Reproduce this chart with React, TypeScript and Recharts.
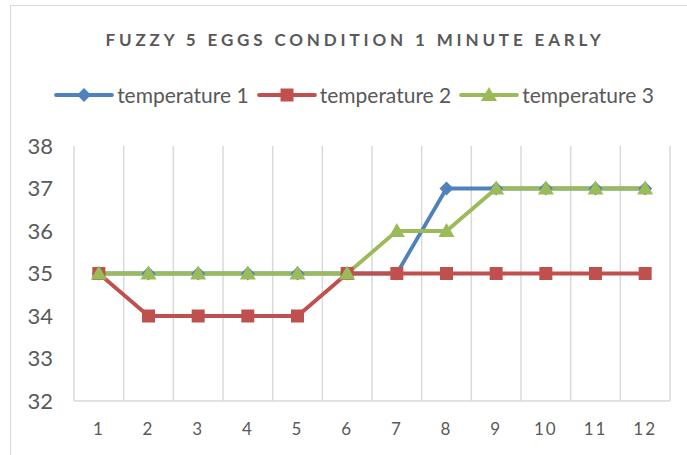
import React from "react";
import { LineChart, Line, XAxis, YAxis, CartesianGrid } from "recharts";

const categories = ["1", "2", "3", "4", "5", "6", "7", "8", "9", "10", "11", "12"];
const temperature1 = [35, 35, 35, 35, 35, 35, 35, 37, 37, 37, 37, 37];
const temperature2 = [35, 34, 34, 34, 34, 35, 35, 35, 35, 35, 35, 35];
const temperature3 = [35, 35, 35, 35, 35, 35, 36, 36, 37, 37, 37, 37];
const yTicks = [32, 33, 34, 35, 36, 37, 38];

const BLUE = "#4F81BD";
const RED = "#C0504D";
const GREEN = "#9BBB59";
const TEXT = "#595959";
const GRID = "#d9d9d9";
const FONT = "Lato, 'Open Sans', sans-serif";

const data = categories.map((c, i) => ({
  cat: c,
  t1: temperature1[i],
  t2: temperature2[i],
  t3: temperature3[i],
}));

type Shape = "diamond" | "square" | "triangle";

function markerPath(shape: Shape, cx: number, cy: number): string {
  if (shape === "diamond") {
    const r = 7;
    return `M${cx},${cy - r}L${cx + r},${cy}L${cx},${cy + r}L${cx - r},${cy}Z`;
  }
  if (shape === "square") {
    const h = 6.5;
    return `M${cx - h},${cy - h}h${2 * h}v${2 * h}h${-2 * h}Z`;
  }
  return `M${cx},${cy - 8}L${cx + 8},${cy + 6}L${cx - 8},${cy + 6}Z`;
}

const makeDot = (shape: Shape, color: string) => (props: any) => {
  const { cx, cy, index } = props;
  if (cx == null || cy == null) return <g key={index} />;
  return <path key={index} d={markerPath(shape, cx, cy)} fill={color} />;
};

const legendItems: { name: string; color: string; shape: Shape }[] = [
  { name: "temperature 1", color: BLUE, shape: "diamond" },
  { name: "temperature 2", color: RED, shape: "square" },
  { name: "temperature 3", color: GREEN, shape: "triangle" },
];

// 12 categories, points sit in the middle of each band
const PLOT_W = 687 - 74 - 17;
const HALF_BAND = PLOT_W / categories.length / 2;

export default function App() {
  return (
    <div style={{ position: "absolute", left: 0, top: 0, width: 687, height: 455, overflow: "hidden", background: "#fff" }}>
      <div
        style={{
          position: "absolute",
          left: 10,
          top: 5,
          width: 700,
          height: 470,
          border: `1.5px solid ${GRID}`,
        }}
      />
      <div
        style={{
          position: "absolute",
          left: 0,
          width: 710,
          top: 29,
          textAlign: "center",
          fontFamily: FONT,
          fontWeight: 700,
          fontSize: 17,
          letterSpacing: 3.85,
          color: TEXT,
        }}
      >
        FUZZY 5 EGGS CONDITION 1 MINUTE EARLY
      </div>
      <div
        style={{
          position: "absolute",
          left: 0,
          width: 716,
          top: 82,
          display: "flex",
          justifyContent: "center",
          alignItems: "center",
          fontFamily: FONT,
        }}
      >
        {legendItems.map((it) => (
          <div key={it.name} style={{ display: "flex", alignItems: "center", marginRight: 8 }}>
            <svg width={60} height={24}>
              <line x1={2} y1={12} x2={58} y2={12} stroke={it.color} strokeWidth={3.8} strokeLinecap="round" />
              <path d={markerPath(it.shape, 30, 12)} fill={it.color} />
            </svg>
            <span style={{ fontSize: 21, color: TEXT, marginLeft: 3 }}>{it.name}</span>
          </div>
        ))}
      </div>
      <LineChart
        width={687}
        height={455}
        data={data}
        margin={{ top: 146, right: 17, left: 0, bottom: 0 }}
        style={{ position: "absolute", left: 0, top: 0 }}
      >
        <CartesianGrid
          horizontal={false}
          stroke={GRID}
          strokeWidth={1.5}
          verticalCoordinatesGenerator={({ offset }: any) =>
            Array.from({ length: categories.length + 1 }, (_, i) => offset.left + (i * offset.width) / categories.length)
          }
        />
        <XAxis
          dataKey="cat"
          height={54}
          padding={{ left: HALF_BAND, right: HALF_BAND }}
          tickLine={false}
          tickSize={0}
          tickMargin={22}
          axisLine={{ stroke: GRID, strokeWidth: 1.5 }}
          tick={{ fill: TEXT, fontSize: 17, fontFamily: FONT, letterSpacing: 2 }}
        />
        <YAxis
          width={74}
          domain={[32, 38]}
          ticks={yTicks}
          interval={0}
          tickLine={false}
          axisLine={false}
          tickSize={0}
          tickMargin={21}
          tick={{ fill: TEXT, fontSize: 22, fontFamily: FONT }}
        />
        <Line dataKey="t1" name="temperature 1" stroke={BLUE} strokeWidth={3.8} dot={makeDot("diamond", BLUE)} isAnimationActive={false} />
        <Line dataKey="t2" name="temperature 2" stroke={RED} strokeWidth={3.8} dot={makeDot("square", RED)} isAnimationActive={false} />
        <Line dataKey="t3" name="temperature 3" stroke={GREEN} strokeWidth={3.8} dot={makeDot("triangle", GREEN)} isAnimationActive={false} />
      </LineChart>
    </div>
  );
}
